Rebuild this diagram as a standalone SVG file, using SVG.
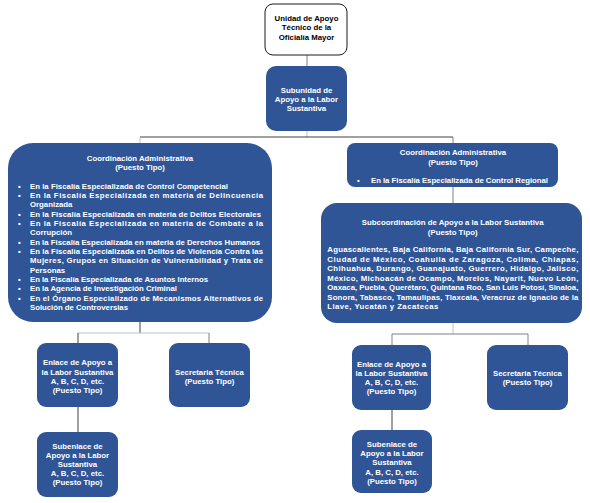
<svg xmlns="http://www.w3.org/2000/svg" width="590" height="503" viewBox="0 0 590 503">
<style>
.box{fill:#2F5597;}
.top{fill:#ffffff;stroke:#1a1a1a;stroke-width:1;}
text{font-family:"Liberation Sans",Arial,sans-serif;font-weight:bold;font-size:7.8px;fill:#ffffff;}
.c{text-anchor:middle;}
.dark{fill:#000000;}
.ln{fill:none;stroke-width:1;}
.k{stroke:#404040;}
.g{stroke:#808080;}
.l{stroke:#C0C0C0;}
</style>
<rect width="590" height="503" fill="#ffffff"/>
<g id="connectors">
<line class="ln g" x1="307" y1="55" x2="307" y2="66"/>
<line class="ln l" x1="307" y1="131" x2="307" y2="137"/>
<line class="ln k" x1="140" y1="137" x2="453" y2="137"/>
<line class="ln l" x1="140" y1="137" x2="140" y2="143"/>
<line class="ln g" x1="453" y1="137" x2="453" y2="143"/>
<line class="ln g" x1="453" y1="187" x2="453" y2="203"/>
<line class="ln k" x1="140" y1="322" x2="140" y2="333"/>
<line class="ln l" x1="78" y1="333" x2="209" y2="333"/>
<line class="ln k" x1="78" y1="333" x2="78" y2="343"/>
<line class="ln g" x1="209" y1="333" x2="209" y2="343"/>
<line class="ln l" x1="453" y1="323" x2="453" y2="334"/>
<line class="ln g" x1="392" y1="334" x2="528" y2="334"/>
<line class="ln g" x1="392" y1="334" x2="392" y2="345"/>
<line class="ln g" x1="528" y1="334" x2="528" y2="345"/>
<line class="ln k" x1="78" y1="407" x2="78" y2="432"/>
<line class="ln k" x1="392" y1="410" x2="392" y2="430"/>
</g>
<g id="unidad">
<rect class="top" x="265" y="4" width="82" height="51" rx="8"/>
<text class="c dark" x="306.5" y="21.1">Unidad de Apoyo</text>
<text class="c dark" x="306.5" y="30.1">Técnico de la</text>
<text class="c dark" x="306.5" y="39.5">Oficialía Mayor</text>
</g>
<g id="subunidad">
<rect class="box" x="266" y="66" width="81" height="65" rx="10"/>
<text class="c" x="306.5" y="92.8">Subunidad de</text>
<text class="c" x="306.5" y="101.8">Apoyo a la Labor</text>
<text class="c" x="306.5" y="110.8">Sustantiva</text>
</g>
<g id="coord-left">
<rect class="box" x="8" y="143" width="264" height="179" rx="25"/>
<text class="c" x="140" y="160.8">Coordinación Administrativa</text>
<text class="c" x="140" y="169.8">(Puesto Tipo)</text>
<text x="18" y="188.5">•</text>
<text x="18" y="197.8">•</text>
<text x="18" y="216.5">•</text>
<text x="18" y="225.8">•</text>
<text x="18" y="244.5">•</text>
<text x="18" y="253.8">•</text>
<text x="18" y="281.8">•</text>
<text x="18" y="291.1">•</text>
<text x="18" y="300.5">•</text>
<text x="30" y="188.5" textLength="198" lengthAdjust="spacing">En la Fiscalía Especializada de Control Competencial</text>
<text x="30" y="197.8" textLength="233" lengthAdjust="spacing">En la Fiscalía Especializada en materia de Delincuencia</text>
<text x="30" y="207.2">Organizada</text>
<text x="30" y="216.5" textLength="231" lengthAdjust="spacing">En la Fiscalía Especializada en materia de Delitos Electorales</text>
<text x="30" y="225.8" textLength="233" lengthAdjust="spacing">En la Fiscalía Especializada en materia de Combate a la</text>
<text x="30" y="235.2">Corrupción</text>
<text x="30" y="244.5" textLength="230" lengthAdjust="spacing">En la Fiscalía Especializada en materia de Derechos Humanos</text>
<text x="30" y="253.8" textLength="233" lengthAdjust="spacing">En la Fiscalía Especializada en Delitos de Violencia Contra las</text>
<text x="30" y="263.1" textLength="233" lengthAdjust="spacing">Mujeres, Grupos en Situación de Vulnerabilidad y Trata de</text>
<text x="30" y="272.5">Personas</text>
<text x="30" y="281.8" textLength="178" lengthAdjust="spacing">En la Fiscalía Especializada de Asuntos Internos</text>
<text x="30" y="291.1" textLength="147" lengthAdjust="spacing">En la Agencia de Investigación Criminal</text>
<text x="30" y="300.5" textLength="233" lengthAdjust="spacing">En el Órgano Especializado de Mecanismos Alternativos de</text>
<text x="30" y="309.8" textLength="98" lengthAdjust="spacing">Solución de Controversias</text>
</g>
<g id="coord-right">
<rect class="box" x="347" y="143" width="211" height="44" rx="8"/>
<text class="c" x="453" y="155.1">Coordinación Administrativa</text>
<text class="c" x="453" y="164.5">(Puesto Tipo)</text>
<text x="357" y="182.8">•</text>
<text x="371" y="182.8" textLength="177" lengthAdjust="spacing">En la Fiscalía Especializada de Control Regional</text>
</g>
<g id="subcoord">
<rect class="box" x="321" y="203" width="261" height="120" rx="16"/>
<text class="c" x="452.7" y="224.5">Subcoordinación de Apoyo a la Labor Sustantiva</text>
<text class="c" x="452.7" y="234.5">(Puesto Tipo)</text>
<text x="327.3" y="252.1" textLength="251" lengthAdjust="spacing">Aguascalientes, Baja California, Baja California Sur, Campeche,</text>
<text x="327.3" y="261.8" textLength="251" lengthAdjust="spacing">Ciudad de México, Coahuila de Zaragoza, Colima, Chiapas,</text>
<text x="327.3" y="271.1" textLength="251" lengthAdjust="spacing">Chihuahua, Durango, Guanajuato, Guerrero, Hidalgo, Jalisco,</text>
<text x="327.3" y="280.5" textLength="251" lengthAdjust="spacing">México, Michoacán de Ocampo, Morelos, Nayarit, Nuevo León,</text>
<text x="327.3" y="290.1" textLength="251" lengthAdjust="spacing">Oaxaca, Puebla, Querétaro, Quintana Roo, San Luis Potosí, Sinaloa,</text>
<text x="327.3" y="299.5" textLength="251" lengthAdjust="spacing">Sonora, Tabasco, Tamaulipas, Tlaxcala, Veracruz de Ignacio de la</text>
<text x="327.3" y="308.8" textLength="111" lengthAdjust="spacing">Llave, Yucatán y Zacatecas</text>
</g>
<g id="enlace-left">
<rect class="box" x="37" y="343" width="81" height="64" rx="9"/>
<text class="c" x="77.5" y="365.1">Enlace de Apoyo a</text>
<text class="c" x="77.5" y="374.5">la Labor Sustantiva</text>
<text class="c" x="77.5" y="383.8">A, B, C, D, etc.</text>
<text class="c" x="77.5" y="392.8">(Puesto Tipo)</text>
</g>
<g id="secretaria-left">
<rect class="box" x="169" y="343" width="81" height="64" rx="9"/>
<text class="c" x="209.5" y="374.5">Secretaria Técnica</text>
<text class="c" x="209.5" y="383.8">(Puesto Tipo)</text>
</g>
<g id="subenlace-left">
<rect class="box" x="37" y="432" width="81" height="65" rx="9"/>
<text class="c" x="77.5" y="448.5">Subenlace de</text>
<text class="c" x="77.5" y="457.7">Apoyo a la Labor</text>
<text class="c" x="77.5" y="466.9">Sustantiva</text>
<text class="c" x="77.5" y="476.1">A, B, C, D, etc.</text>
<text class="c" x="77.5" y="485.3">(Puesto Tipo)</text>
</g>
<g id="enlace-right">
<rect class="box" x="352" y="345" width="79" height="65" rx="9"/>
<text class="c" x="391.5" y="367.1">Enlace de Apoyo a</text>
<text class="c" x="391.5" y="376.2">la Labor Sustantiva</text>
<text class="c" x="391.5" y="385.3">A, B, C, D, etc.</text>
<text class="c" x="391.5" y="394.4">(Puesto Tipo)</text>
</g>
<g id="secretaria-right">
<rect class="box" x="487" y="345" width="81" height="65" rx="9"/>
<text class="c" x="527.5" y="376.1">Secretaria Técnica</text>
<text class="c" x="527.5" y="385.1">(Puesto Tipo)</text>
</g>
<g id="subenlace-right">
<rect class="box" x="352" y="430" width="80" height="63" rx="9"/>
<text class="c" x="392" y="446.8">Subenlace de</text>
<text class="c" x="392" y="456.1">Apoyo a la Labor</text>
<text class="c" x="392" y="465.1">Sustantiva</text>
<text class="c" x="392" y="474.5">A, B, C, D, etc.</text>
<text class="c" x="392" y="483.8">(Puesto Tipo)</text>
</g>
</svg>
